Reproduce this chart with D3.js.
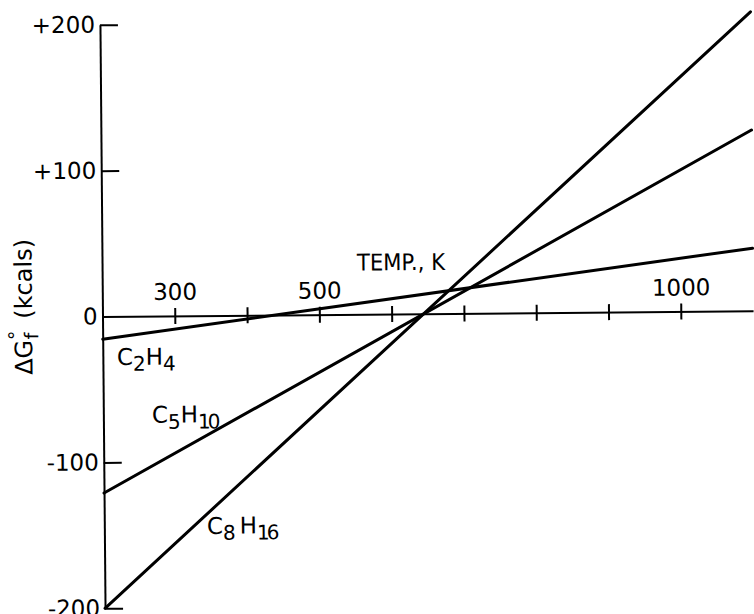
<!DOCTYPE html>
<html>
<head>
<meta charset="utf-8">
<script src="https://cdn.jsdelivr.net/npm/d3@7"></script>
<style>
  html, body { margin: 0; padding: 0; background: #fff; }
  svg { display: block; }
  text { font-family: "DejaVu Sans", sans-serif; fill: #000; }
</style>
</head>
<body>
<svg id="chart" width="754" height="614"></svg>
<script>
// Free energy of formation vs temperature for three olefins
const temps  = [200, 1100];          // K
const c2h4   = [-15.5, 43];           // kcal
const c5h10  = [-121, 124];
const c8h16  = [-200, 205];

const xTickValues  = [300, 400, 500, 600, 700, 800, 900, 1000];
const xTickLabeled = [300, 500, 1000];
const yTickValues  = [-200, -100, 0, 100, 200];
const yTickLabels  = ["-200", "-100", "0", "+100", "+200"];

const series = [
  { name: "C2H4",  values: c2h4 },
  { name: "C5H10", values: c5h10 },
  { name: "C8H16", values: c8h16 }
];

const svg = d3.select("#chart");

// Plot frame: origin at (200 K, 0 kcal); the drawing sits at a slight tilt
const g = svg.append("g")
  .attr("transform", "translate(102.5,317.3) rotate(-0.5)");

const x = d3.scaleLinear().domain([200, 1100]).range([0, 650.6]);
const y = d3.scaleLinear().domain([-200, 200]).range([291, -292.5]);

// Temperature axis: ticks cross the line, labels above
const xAxis = d3.axisTop(x)
  .tickValues(xTickValues)
  .tickSizeInner(8)
  .tickSizeOuter(0)
  .tickPadding(8)
  .tickFormat(d => xTickLabeled.includes(d) ? String(d) : "");

const gx = g.append("g").attr("transform", `translate(0,${y(0)})`).call(xAxis);
gx.select(".domain").attr("stroke", "#000").attr("stroke-width", 2);
gx.selectAll(".tick line").attr("y1", 8).attr("stroke", "#000").attr("stroke-width", 2);
gx.selectAll(".tick text").attr("font-size", 23).attr("font-family", "DejaVu Sans");

// Energy axis: ticks pointing into the plot, labels to the left
const yAxis = d3.axisLeft(y)
  .tickValues(yTickValues)
  .tickSizeInner(-18)
  .tickSizeOuter(0)
  .tickPadding(5)
  .tickFormat((d, i) => yTickLabels[i]);

const gy = g.append("g").call(yAxis);
gy.select(".domain").attr("stroke", "#000").attr("stroke-width", 2);
gy.selectAll(".tick line").attr("stroke", "#000").attr("stroke-width", 2)
  .filter(d => d === 0).remove();
gy.selectAll(".tick text").attr("font-size", 23).attr("font-family", "DejaVu Sans");

// Lines
const line = d3.line()
  .x((d, i) => x(temps[i]))
  .y(d => y(d));

g.selectAll("path.series")
  .data(series)
  .join("path")
  .attr("class", "series")
  .attr("d", d => line(d.values))
  .attr("fill", "none")
  .attr("stroke", "#000")
  .attr("stroke-width", 3)
  .attr("stroke-linecap", "round");

// Axis caption
g.append("text")
  .attr("x", 255).attr("y", -44.5)
  .attr("font-size", 23)
  .attr("textLength", 88)
  .attr("lengthAdjust", "spacingAndGlyphs")
  .text("TEMP., K");

// Formula labels with subscripts
function formula(px, py, parts, gap) {
  const t = g.append("text").attr("x", px).attr("y", py).attr("font-size", 23);
  parts.forEach((p, i) => {
    const sub = i % 2 === 1;
    const ts = t.append("tspan")
      .attr("dy", sub ? 6 : (i === 0 ? 0 : -6))
      .attr("dx", (!sub && i > 0 && gap) ? gap : 0)
      .attr("font-size", sub ? 20 : 23)
      .text(p);
    if (sub && p.length > 1) ts.attr("letter-spacing", -3);
  });
}
formula(14, 47.8, ["C", "2", "H", "4"], 0);
formula(48.5, 106, ["C", "5", "H", "10"], 0);
formula(102.5, 217.5, ["C", "8", "H", "16"], 4);

// Vertical axis title: ΔG°f (kcals)
const yt = g.append("text")
  .attr("transform", "translate(-70.5,-11) rotate(-90)")
  .attr("text-anchor", "middle")
  .attr("font-size", 24);
yt.append("tspan").text("ΔG");
yt.append("tspan").attr("font-size", 19).attr("dy", -10).text("°");
yt.append("tspan").attr("font-size", 19).attr("dx", -9).attr("dy", 16).text("f");
yt.append("tspan").attr("dy", -6).attr("dx", 14).text("(kcals)");
</script>
</body>
</html>
